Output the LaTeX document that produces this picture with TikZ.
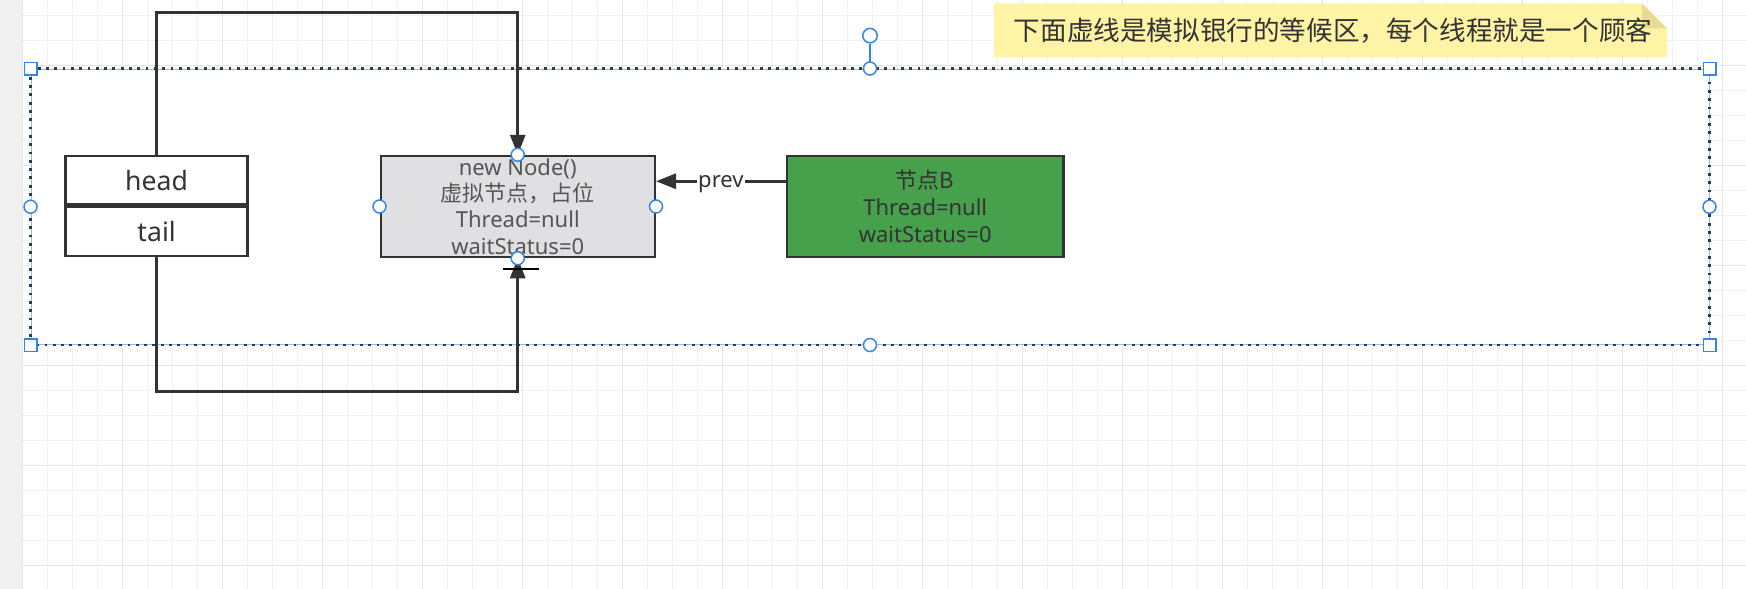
\documentclass[tikz,border=0pt]{standalone}
\usepackage{fontspec}
\setmainfont{Noto Sans}
\newfontfamily\cjk{Noto Sans CJK SC}
\usetikzlibrary{positioning,calc,arrows.meta}
\definecolor{gridminor}{HTML}{F2F2F4}
\definecolor{gridmajor}{HTML}{E5E5E9}
\definecolor{sidebar}{HTML}{F0F0F0}
\definecolor{selblue}{HTML}{3385E6}
\definecolor{dotink}{HTML}{2E3A4C}
\definecolor{ink}{HTML}{333333}
\definecolor{graytext}{HTML}{555555}
\definecolor{nodegray}{HTML}{E0E0E2}
\definecolor{nodegreen}{HTML}{47A04C}
\definecolor{noteyellow}{HTML}{FFF3A6}
\definecolor{notefold}{HTML}{E8DB92}

\begin{document}
\begin{tikzpicture}[x=1pt, y=-1pt,
    box/.style={draw=ink, line width=2.5pt, inner sep=0pt, align=center},
    link/.style={draw=ink, line width=3pt, -{Triangle[length=20pt, width=15pt]}},
    handle/.style={circle, draw=selblue, fill=white, line width=1.5pt, inner sep=0pt, minimum size=13pt},
    corner/.style={rectangle, draw=selblue, fill=white, line width=1.5pt, inner sep=0pt, minimum size=12.5pt},
    zonedots/.style={dotink, line width=2.8pt, dash pattern=on 2.8pt off 5.5pt}]
    \useasboundingbox (0, 0) rectangle (1746, 589);
    \fill [white] (0, 0) rectangle (1746, 589);
    \fill [sidebar] (0, 0) rectangle (22.7, 589); % side panel
    % canvas grid
    \foreach \gx in {22.7, 47.7, ..., 1746} \draw [gridminor, line width=1pt] (\gx, 0) -- (\gx, 589);
    \foreach \gy in {15, 40, ..., 589} \draw [gridminor, line width=1pt] (22.7, \gy) -- (1746, \gy);
    \foreach \gx in {22.7, 122.7, ..., 1746} \draw [gridmajor, line width=1pt] (\gx, 0) -- (\gx, 589);
    \foreach \gy in {65, 165, ..., 589} \draw [gridmajor, line width=1pt] (22.7, \gy) -- (1746, \gy);

    % waiting area
    \node [draw=selblue!55, fill=white, line width=1pt, inner sep=0pt, minimum width=1678pt, minimum height=275.5pt] (zone) at (870, 206.75) {};
    \draw [zonedots] (zone.north west) rectangle (zone.south east);

    % note
    \fill [noteyellow] (994, 3.3) -- (1642, 3.3) -- (1667, 28.3) -- (1667, 57.3) -- (994, 57.3) -- cycle;
    \fill [notefold] (1642, 3.3) -- (1667, 28.3) -- (1642, 28.3) -- cycle;
    \node [text=ink, font=\cjk\fontsize{26.6}{30}\selectfont] (note) at (1333, 31) {下面虚线是模拟银行的等候区，每个线程就是一个顾客};

    \node [box, minimum width=182pt, minimum height=48.5pt, font=\fontsize{26.6}{30}\selectfont, text=ink] (head) at (156.6, 180.25) {head};
    \node [box, minimum width=182pt, minimum height=49.5pt, font=\fontsize{26.6}{30}\selectfont, text=ink] (tail) at (156.6, 231.25) {tail};
    \node [box, fill=nodegray, text=graytext, minimum width=274pt, minimum height=101pt, font=\fontsize{22}{26.3}\selectfont] (dummy) at (517.75, 206.5) {new Node()\\{\cjk 虚拟节点，占位}\\Thread=null\\waitStatus=0};
    \node [box, fill=nodegreen, text=ink, minimum width=276.4pt, minimum height=101pt, font=\fontsize{22}{27}\selectfont] (nodeB) at (925.2, 206.5) {{\cjk 节点B}\\Thread=null\\waitStatus=0};

    \draw [link] (head.north) -- ++(0, -142.6) -| (dummy.north); % head pointer
    \draw [link] (tail.south) -- ++(0, 133.8) -| (dummy.south); % tail pointer
    \draw [link] ($(nodeB.north west) + (0, 26.5)$) -- ($(dummy.north east) + (0, 26.5)$)
        node [midway, fill=white, inner sep=1pt, yshift=-3pt, text=ink, font=\fontsize{22}{26}\selectfont] (prev) {prev};

    % selection handles
    \foreach \a in {north, west, east, south} \node [handle] at (dummy.\a) {};
    \node [handle, minimum size=14.5pt] (turn) at (870, 35.6) {};
    \draw [selblue, line width=1.5pt] (turn.south) -- (zone.north);
    \foreach \a in {north, west, east, south} \node [handle] at (zone.\a) {};
    \foreach \a in {north west, north east, south west, south east} \node [corner] at (zone.\a) {};
    \draw [black, line width=2.5pt] (503, 269) -- (539, 269); % mouse cursor
\end{tikzpicture}
\end{document}
